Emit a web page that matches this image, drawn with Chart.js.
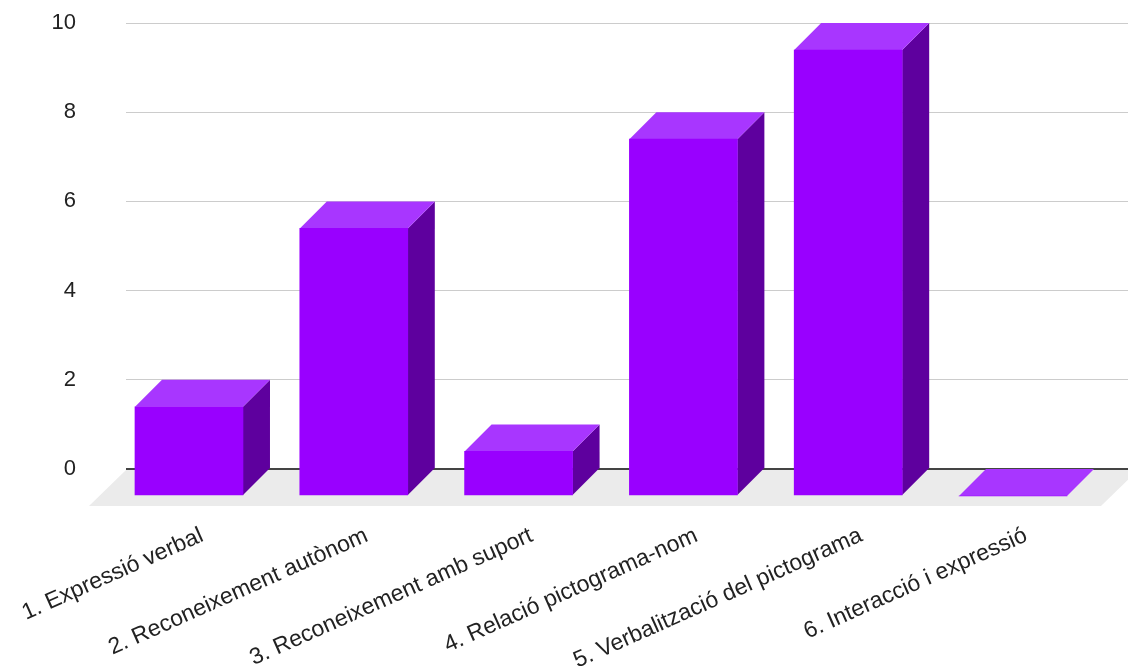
<!DOCTYPE html>
<html><head><meta charset="utf-8">
<script src="https://cdn.jsdelivr.net/npm/chart.js@4"></script>
<style>html,body{margin:0;padding:0;background:#fff}#wrap{position:relative;width:1128px;height:671px}</style>
</head><body><div id="wrap"><canvas id="c"></canvas></div>
<script>
const categories = ["1. Expressió verbal","2. Reconeixement autònom","3. Reconeixement amb suport","4. Relació pictograma-nom","5. Verbalització del pictograma","6. Interacció i expressió"];
const values = [2, 6, 1, 8, 10, 0];
const yTickValues = [0, 2, 4, 6, 8, 10];

const FONT = "'Liberation Sans', Arial, sans-serif";
const depth = {dx: 27, dy: 27, floor: 37};
const colors = {front: '#9900ff', top: '#a836ff', side: '#5e009e', floor: '#ebebeb'};

const threeD = {
  id: 'threeD',
  beforeDraw(chart) {
    const {ctx, chartArea: a} = chart;
    ctx.save();
    ctx.fillStyle = '#fff';
    ctx.fillRect(0, 0, chart.width, chart.height);
    ctx.fillStyle = colors.floor;
    ctx.beginPath();
    ctx.moveTo(a.left, a.bottom + 1);
    ctx.lineTo(a.right + 10, a.bottom + 1);
    ctx.lineTo(a.right + 10 - depth.floor, a.bottom + depth.floor);
    ctx.lineTo(a.left - depth.floor, a.bottom + depth.floor);
    ctx.closePath();
    ctx.fill();
    ctx.restore();
  },
  beforeDatasetsDraw(chart) {
    const ctx = chart.ctx;
    const meta = chart.getDatasetMeta(0);
    ctx.save();
    meta.data.forEach(el => {
      const {x, y, base, width} = el.getProps(['x', 'y', 'base', 'width'], true);
      const L = x - width / 2, R = x + width / 2;
      const T = Math.min(y, base), B = Math.max(y, base);
      const dx = depth.dx, dy = depth.dy;
      ctx.fillStyle = colors.side;
      ctx.beginPath();
      ctx.moveTo(R - dx, T + dy); ctx.lineTo(R, T); ctx.lineTo(R, B); ctx.lineTo(R - dx, B + dy);
      ctx.closePath(); ctx.fill();
      ctx.fillStyle = colors.top;
      ctx.beginPath();
      ctx.moveTo(L - dx, T + dy); ctx.lineTo(R - dx, T + dy); ctx.lineTo(R, T); ctx.lineTo(L, T);
      ctx.closePath(); ctx.fill();
    });
    ctx.restore();
  },
  beforeDatasetDraw(chart) { chart.ctx.save(); chart.ctx.translate(-depth.dx, depth.dy); },
  afterDatasetDraw(chart) { chart.ctx.restore(); }
};

new Chart(document.getElementById('c'), {
  type: 'bar',
  data: {
    datasets: [{
      data: values.map((v, i) => ({x: i, y: v})),
      backgroundColor: colors.front,
      borderWidth: 0,
      barThickness: 108,
      clip: false
    }]
  },
  options: {
    responsive: true,
    maintainAspectRatio: false,
    animation: false,
    events: [],
    layout: {padding: {top: 23, left: 0, right: 0, bottom: 0}},
    plugins: {legend: {display: false}, tooltip: {enabled: false}},
    scales: {
      x: {
        type: 'linear',
        offset: false,
        min: -0.546,
        max: 5.534,
        grid: {display: false, drawTicks: true, tickLength: 50, tickColor: 'rgba(0,0,0,0)'},
        border: {display: false},
        afterFit(s) { s.height = 202; },
        afterBuildTicks(s) { s.ticks = categories.map((c, i) => ({value: i})); },
        ticks: {
          autoSkip: false,
          minRotation: 24,
          maxRotation: 24,
          includeBounds: false,
          padding: 3,
          labelOffset: -14,
          color: '#222',
          font: {family: FONT, size: 23},
          callback: (v) => categories[v] ?? ''
        }
      },
      y: {
        min: 0,
        max: 10,
        afterFit(s) { s.width = 126; },
        afterBuildTicks(s) { s.ticks = yTickValues.map(v => ({value: v})); },
        grid: {
          drawTicks: true,
          tickLength: 46,
          tickColor: 'rgba(0,0,0,0)',
          color: (c) => c.tick && c.tick.value === 0 ? '#444' : '#cccccc',
          lineWidth: (c) => c.tick && c.tick.value === 0 ? 2 : 1
        },
        border: {display: false},
        ticks: {
          padding: 4,
          color: '#222',
          font: {family: FONT, size: 22}
        }
      }
    }
  },
  plugins: [threeD]
});
</script>
</body></html>
